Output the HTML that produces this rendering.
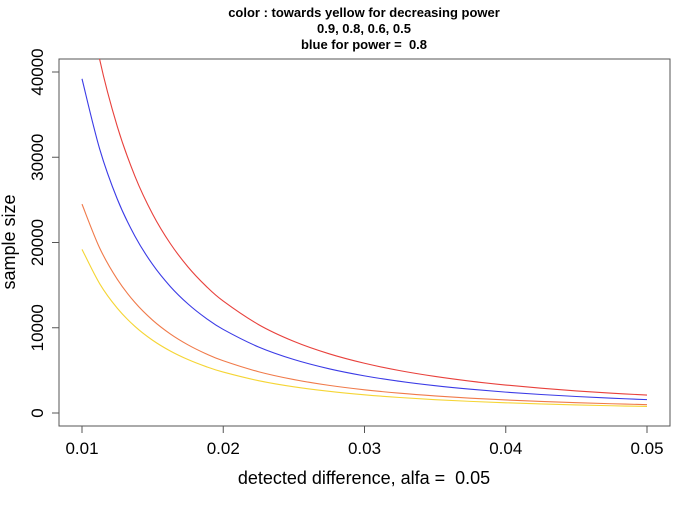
<!DOCTYPE html>
<html><head><meta charset="utf-8"><style>
body{margin:0;background:#fff}
svg{font-family:"Liberation Sans",Arial,sans-serif}
text{white-space:pre}
</style></head><body>
<svg id="chart" width="700" height="500" xmlns="http://www.w3.org/2000/svg">
<defs><clipPath id="clip"><rect x="59" y="59" width="611" height="367"/></clipPath></defs>
<g font-weight="bold" font-size="13" text-anchor="middle">
<text x="364" y="17">color : towards yellow for decreasing power</text>
<text x="364" y="33">0.9, 0.8, 0.6, 0.5</text>
<text x="364" y="49">blue for power =  0.8</text>
</g>
<rect x="59" y="59" width="611" height="367" fill="none" stroke="#555" stroke-width="1"/>
<g id="xaxis"></g>
<g id="yaxis"></g>
<text x="364" y="484" font-size="18" text-anchor="middle">detected difference, alfa =  0.05</text>
<text transform="translate(15,242) rotate(-90)" font-size="18" text-anchor="middle">sample size</text>
<g id="series" clip-path="url(#clip)"></g>
</svg>
<script>
const diffs=[0.01,0.01125,0.0125,0.01375,0.015,0.01625,0.0175,0.01875,0.02,0.0225,0.025,0.0275,0.03,0.0325,0.035,0.0375,0.04,0.0425,0.045,0.0475,0.05];
const power09=[52500,41481,33600,27769,23333,19882,17143,14933,13125,10370,8400,6942,5833,4970,4286,3733,3281,2907,2593,2327,2100];
const power08=[39200,30973,25088,20734,17422,14844,12800,11150,9800,7743,6272,5183,4356,3712,3200,2788,2450,2170,1936,1737,1568];
const power06=[24500,19358,15680,12959,10889,9278,8000,6968,6125,4840,3920,3240,2722,2320,2000,1742,1531,1356,1210,1086,980];
const power05=[19200,15170,12288,10155,8533,7271,6269,5461,4800,3793,3072,2539,2133,1818,1567,1365,1200,1063,948,851,768];
const xTicks=[0.01,0.02,0.03,0.04,0.05];
const xTickLabels=["0.01","0.02","0.03","0.04","0.05"];
const yTicks=[0,10000,20000,30000,40000];
const yTickLabels=["0","10000","20000","30000","40000"];
const NS="http://www.w3.org/2000/svg";
const xs=v=>82+(v-0.01)/0.04*565;
const ys=v=>413-v/40000*341;
function mk(t,a,p){const e=document.createElementNS(NS,t);for(const k in a)e.setAttribute(k,a[k]);p.appendChild(e);return e;}
const xa=document.getElementById('xaxis');
mk('line',{x1:xs(0.01),x2:xs(0.05),y1:426,y2:426,stroke:'#555'},xa);
xTicks.forEach((t,i)=>{
 const l=mk('line',{x1:xs(t),x2:xs(t),y1:426,y2:433,stroke:'#555'},xa);
 
 
 const tx=mk('text',{x:xs(t),y:454,'font-size':17,'text-anchor':'middle'},xa);
 tx.textContent=xTickLabels[i];
 
 
});
const ya=document.getElementById('yaxis');
mk('line',{x1:59,x2:59,y1:ys(0),y2:ys(40000),stroke:'#555'},ya);
yTicks.forEach((t,i)=>{
 const l=mk('line',{x1:52,x2:59,y1:ys(t),y2:ys(t),stroke:'#555'},ya);
 
 
 const tx=mk('text',{transform:`translate(43,${ys(t)}) rotate(-90)`,'font-size':17,'text-anchor':'middle'},ya);
 tx.textContent=yTickLabels[i];
 
 
});
function pathFor(vals){
 const p=diffs.map((d,i)=>[xs(d),ys(vals[i])]);
 let s=`M${p[0][0]},${p[0][1]}`;
 for(let i=0;i<p.length-1;i++){
  const p0=p[Math.max(i-1,0)],p1=p[i],p2=p[i+1],p3=p[Math.min(i+2,p.length-1)];
  const c1=[p1[0]+(p2[0]-p0[0])/6,p1[1]+(p2[1]-p0[1])/6];
  const c2=[p2[0]-(p3[0]-p1[0])/6,p2[1]-(p3[1]-p1[1])/6];
  s+=` C${c1[0]},${c1[1]} ${c2[0]},${c2[1]} ${p2[0]},${p2[1]}`;
 }
 return s;
}
const sg=document.getElementById('series');
[[power09,'#e8413c','line-power-0.9'],[power08,'#3b3be6','line-power-0.8'],[power06,'#f07a4a','line-power-0.6'],[power05,'#f5d535','line-power-0.5']].forEach(([v,c,n])=>{
 const e=mk('path',{d:pathFor(v),fill:'none',stroke:c,'stroke-width':1.1},sg);
 
 
});
</script>
</body></html>
